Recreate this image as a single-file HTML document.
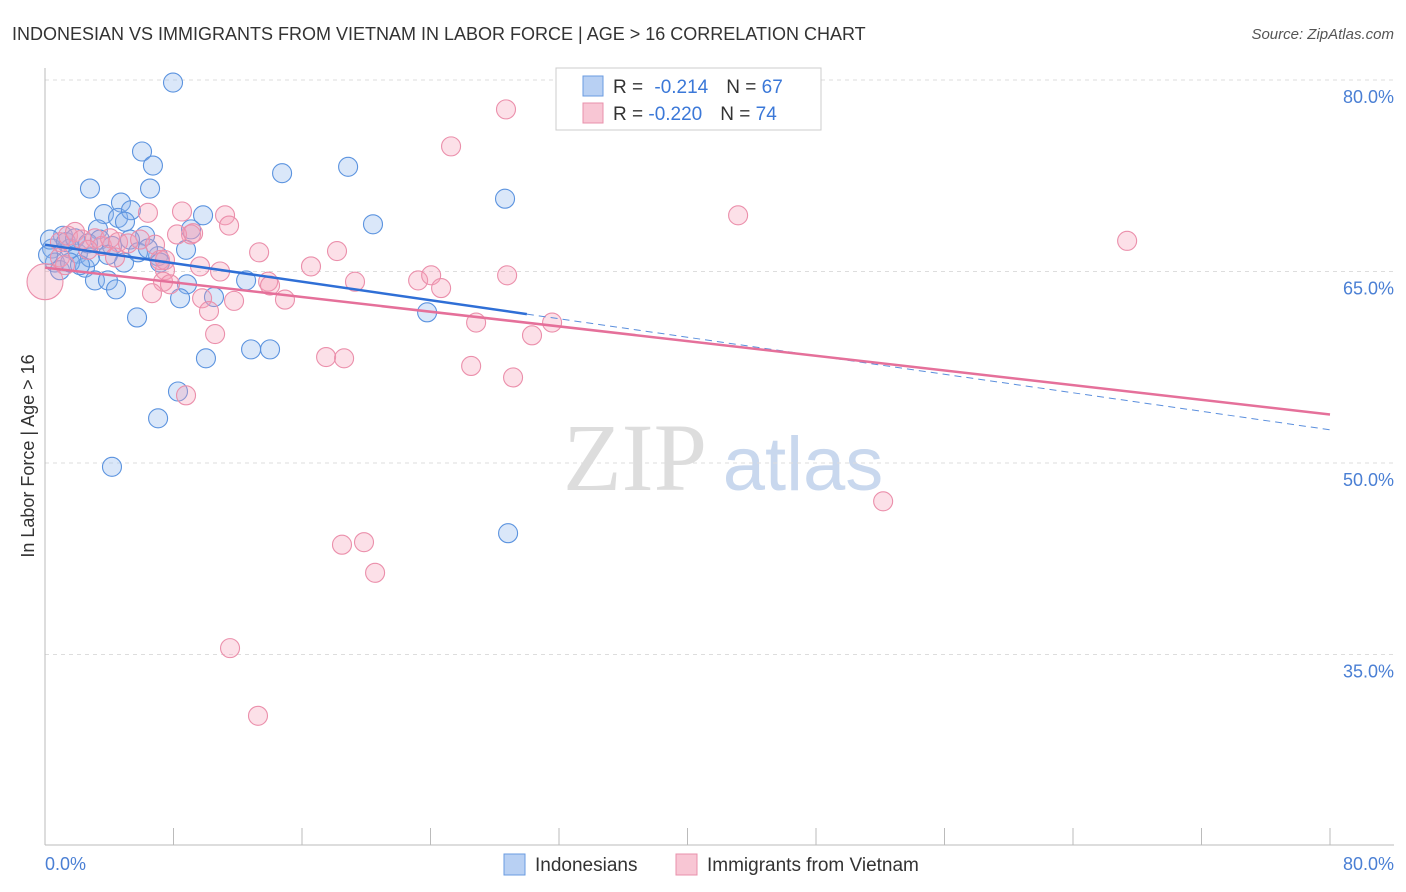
<!DOCTYPE html>
<html><head><meta charset="utf-8"><style>
body{margin:0;background:#fff;font-family:"Liberation Sans",sans-serif}
svg{display:block}
</style></head><body>
<svg id="chart" width="1406" height="892">
<text x="12" y="40" font-size="18" fill="#333">INDONESIAN VS IMMIGRANTS FROM VIETNAM IN LABOR FORCE | AGE &gt; 16 CORRELATION CHART</text>
<text x="1394" y="39" font-size="15" fill="#555" font-style="italic" text-anchor="end">Source: ZipAtlas.com</text>
<g>
<text x="635" y="490" font-size="96" fill="#ddd" font-family="Liberation Serif,serif" text-anchor="middle">ZIP</text>
<text x="803" y="490" font-size="76" fill="#c9d8ee" text-anchor="middle">atlas</text>
</g>
<g id="grid"></g>
<line x1="45" y1="68" x2="45" y2="845" stroke="#bbb"/>
<line x1="45" y1="845" x2="1394" y2="845" stroke="#bbb"/>
<g id="xticks"></g>
<text x="45" y="870" font-size="18" fill="#4a7fd4">0.0%</text>
<text x="1394" y="870" font-size="18" fill="#4a7fd4" text-anchor="end">80.0%</text>
<text transform="translate(34,456) rotate(-90)" font-size="18" fill="#333" text-anchor="middle">In Labor Force | Age &gt; 16</text>
<g id="pts"></g>
<g id="lines"></g>
<g>
<rect x="556" y="68" width="265" height="62" fill="#fff" stroke="#ccc"/>
<rect x="583" y="76" width="20" height="20" fill="#b8d0f3" stroke="#6a9be0"/>
<rect x="583" y="103" width="20" height="20" fill="#f8c6d4" stroke="#e890ab"/>
<text x="613" y="93" font-size="19" fill="#333">R = <tspan dx="6" fill="#3b78d8">-0.214</tspan><tspan dx="18">N = </tspan><tspan fill="#3b78d8">67</tspan></text>
<text x="613" y="120" font-size="19" fill="#333">R = <tspan fill="#3b78d8">-0.220</tspan><tspan dx="18">N = </tspan><tspan fill="#3b78d8">74</tspan></text>
</g>
<g>
<rect x="504" y="854" width="21" height="21" fill="#b8d0f3" stroke="#6a9be0"/>
<text x="535" y="871" font-size="19" fill="#333">Indonesians</text>
<rect x="676" y="854" width="21" height="21" fill="#f8c6d4" stroke="#e890ab"/>
<text x="707" y="871" font-size="19" fill="#333">Immigrants from Vietnam</text>
</g>
</svg>
<script>
const yTicks=[35,50,65,80];
const xTickVals=[0,8,16,24,32,40,48,56,64,72,80];
const blueX=[7.97,6.04,6.72,2.80,6.54,14.76,18.87,28.64,20.42,4.73,3.67,4.55,5.35,4.98,9.84,9.09,8.78,6.23,3.30,5.29,1.12,1.56,2.05,0.44,0.62,0.93,2.49,3.11,3.92,4.42,4.92,5.79,7.04,7.16,8.84,8.41,10.52,12.52,5.73,10.02,12.83,14.01,8.28,7.04,4.17,28.83,23.79,0.31,0.19,1.31,1.87,2.68,3.42,4.17,6.41,2.80,1.56,2.18,3.92];
const blueY=[79.8,74.4,73.3,71.5,71.5,72.7,73.2,70.7,68.7,70.4,69.5,69.2,69.8,68.9,69.4,68.3,66.7,67.8,68.3,67.5,67.8,66.8,66.4,66.8,65.7,65.1,65.3,64.3,64.3,63.6,65.7,66.5,66.2,65.7,64.0,62.9,63.0,64.3,61.4,58.2,58.9,58.9,55.6,53.5,49.7,44.5,61.8,67.5,66.3,67.3,67.6,67.2,67.5,67.0,66.8,66.1,65.7,65.5,66.3];
const pinkX=[28.7,25.28,43.15,67.37,6.41,8.53,11.21,11.46,9.09,8.22,13.33,18.18,16.56,9.65,10.9,7.47,7.35,7.78,6.66,9.78,11.77,10.21,10.59,14.94,13.89,14.01,19.3,23.23,24.04,24.66,28.77,26.84,30.32,31.57,17.5,18.62,26.53,29.14,8.78,52.18,18.49,19.86,20.55,11.52,13.26,0.93,1.43,1.87,2.3,3.11,3.55,4.05,4.55,5.17,5.92,6.85,7.16,9.22,0.93,2.68,4.36,7.47,1.25];
const pinkY=[77.7,74.8,69.4,67.4,69.6,69.7,69.4,68.6,67.9,67.9,66.5,66.6,65.4,65.4,65.0,65.1,64.2,64.0,63.3,62.9,62.7,61.9,60.1,62.8,64.2,63.9,64.2,64.3,64.7,63.7,64.7,61.0,60.0,61.0,58.3,58.2,57.6,56.7,55.3,47.0,43.6,43.8,41.4,35.5,30.2,67.3,67.8,68.1,67.5,67.6,67.0,67.6,67.3,67.2,67.5,67.1,65.9,68.0,66.1,66.7,66.1,65.9,65.5];
const bigPink=[0,64.2];
const blueTrend=[67.1,52.6];
const pinkTrend=[65.3,53.8];
const NS="http://www.w3.org/2000/svg";
const sx=v=>45+v*(1330-45)/80;
const sy=v=>80+(80-v)*191.5/15;
function mk(t,a,p){const e=document.createElementNS(NS,t);for(const k in a)e.setAttribute(k,a[k]);p.appendChild(e);return e;}
const grid=document.getElementById('grid');
yTicks.forEach(v=>{
 const l=mk('line',{x1:45,x2:1394,y1:sy(v),y2:sy(v),stroke:'#ddd','stroke-dasharray':'4,4'},grid);
 
 
 const t=mk('text',{x:1394,y:sy(v)+23,'font-size':18,fill:'#4a7fd4','text-anchor':'end'},grid);
 t.textContent=v.toFixed(1)+'%';
 
 
});
const xt=document.getElementById('xticks');
xTickVals.forEach(v=>{
 const l=mk('line',{x1:sx(v),x2:sx(v),y1:828,y2:845,stroke:'#bbb'},xt);
 
 
});
const pts=document.getElementById('pts');
blueX.forEach((x,i)=>{
 const c=mk('circle',{cx:sx(x),cy:sy(blueY[i]),r:9.5,fill:'rgba(140,180,235,0.32)',stroke:'#5b93df','stroke-width':1.1},pts);
 
 
});
pinkX.forEach((x,i)=>{
 const c=mk('circle',{cx:sx(x),cy:sy(pinkY[i]),r:9.5,fill:'rgba(245,160,185,0.32)',stroke:'#eb8fab','stroke-width':1.1},pts);
 
 
});
const bp=mk('circle',{cx:sx(bigPink[0]),cy:sy(bigPink[1]),r:18,fill:'rgba(245,160,185,0.32)',stroke:'#eb8fab','stroke-width':1.1},pts);


const ln=document.getElementById('lines');
const by=x=>blueTrend[0]+(blueTrend[1]-blueTrend[0])*x/80;
const py=x=>pinkTrend[0]+(pinkTrend[1]-pinkTrend[0])*x/80;
const b1=mk('line',{x1:sx(0),y1:sy(by(0)),x2:sx(30),y2:sy(by(30)),stroke:'#2f6fd6','stroke-width':2.5},ln);


const b2=mk('line',{x1:sx(30),y1:sy(by(30)),x2:sx(80),y2:sy(by(80)),stroke:'#5b8fdd','stroke-width':1,'stroke-dasharray':'7,5'},ln);


const p1=mk('line',{x1:sx(0),y1:sy(py(0)),x2:sx(80),y2:sy(py(80)),stroke:'#e5709a','stroke-width':2.5},ln);


</script>
</body></html>
